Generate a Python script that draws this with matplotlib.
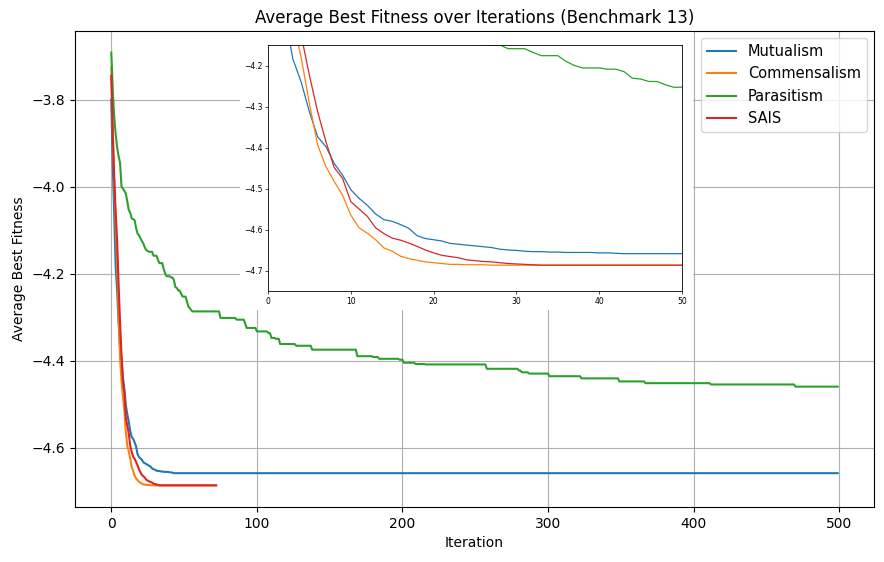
import numpy as np
import matplotlib
matplotlib.use("Agg")
import matplotlib.pyplot as plt
from matplotlib.patches import Rectangle

# ---------------- data (run-length encoded: value, number of iterations) ----------------
mutualism_vals = [-3.800, -3.950, -4.070, -4.184, -4.240, -4.313, -4.374, -4.398, -4.439, -4.467,
                  -4.503, -4.524, -4.541, -4.562, -4.576, -4.580, -4.588, -4.597, -4.615, -4.622,
                  -4.625, -4.628, -4.634, -4.636, -4.638, -4.640, -4.642, -4.644, -4.648, -4.650,
                  -4.651, -4.653, -4.654, -4.655, -4.656, -4.657, -4.658, -4.659]
mutualism_runs = [1] * 32 + [2, 2, 4, 2, 1, 457]

commensalism_vals = [-3.726, -3.870, -3.990, -4.090, -4.180, -4.293, -4.394, -4.447, -4.483, -4.516,
                     -4.565, -4.596, -4.609, -4.625, -4.645, -4.653, -4.665, -4.671, -4.675, -4.679,
                     -4.681, -4.683, -4.685, -4.686, -4.687]
commensalism_runs = [1] * 22 + [2, 3, 46]

parasitism_vals = [-3.692, -3.780, -3.840, -3.880, -3.910, -3.930, -3.945, -4.000, -4.005, -4.010,
                   -4.016, -4.035, -4.054, -4.060, -4.073, -4.075, -4.077, -4.095, -4.108, -4.112,
                   -4.119, -4.125, -4.131, -4.140, -4.146, -4.148, -4.150, -4.159, -4.168, -4.176,
                   -4.190, -4.200, -4.206, -4.209, -4.215, -4.231, -4.233, -4.239, -4.247, -4.253,
                   -4.265, -4.276, -4.280, -4.285, -4.287, -4.302, -4.306, -4.315, -4.325, -4.333,
                   -4.337, -4.348, -4.350, -4.362, -4.366, -4.375, -4.390, -4.392, -4.396, -4.398,
                   -4.405, -4.408, -4.409, -4.419, -4.423, -4.427, -4.430, -4.436, -4.441, -4.448,
                   -4.452, -4.455, -4.460]
parasitism_runs = ([1] * 26 + [3, 3, 1, 3, 1, 1, 3, 2, 1, 1, 1, 2, 1, 3]
                   + [1, 1, 1, 1, 19, 11, 6, 1, 7, 8, 2, 3, 3, 11, 11, 31, 11, 4, 14, 3,
                      8, 7, 42, 22, 2, 5, 14, 22, 26, 18, 45, 58, 30])

sais_vals = [-3.745, -3.880, -3.980, -4.060, -4.125, -4.224, -4.313, -4.386, -4.449, -4.475,
             -4.532, -4.550, -4.568, -4.596, -4.610, -4.621, -4.626, -4.633, -4.641, -4.650,
             -4.657, -4.663, -4.666, -4.669, -4.674, -4.676, -4.678, -4.679, -4.681, -4.683,
             -4.684, -4.685, -4.686, -4.687]
sais_runs = [1] * 33 + [40]

labels = ["Mutualism", "Commensalism", "Parasitism", "SAIS"]
colors = ["#1f77b4", "#ff7f0e", "#2ca02c", "#d62728"]

series = [np.repeat(mutualism_vals, mutualism_runs),
          np.repeat(commensalism_vals, commensalism_runs),
          np.repeat(parasitism_vals, parasitism_runs),
          np.repeat(sais_vals, sais_runs)]

# ---------------- figure ----------------
fig = plt.figure(figsize=(8.84, 5.62), dpi=100)
ax = fig.add_axes([75 / 884, 55 / 562, 799 / 884, 476 / 562])

for y, lab, c in zip(series, labels, colors):
    ax.plot(np.arange(len(y)), y, color=c, lw=1.5, label=lab)

ax.set_title("Average Best Fitness over Iterations (Benchmark 13)", fontsize=12)
ax.set_xlabel("Iteration", fontsize=10)
ax.set_ylabel("Average Best Fitness", fontsize=10)
ax.set_xticks([0, 100, 200, 300, 400, 500])
ax.set_yticks([-3.8, -4.0, -4.2, -4.4, -4.6])
ax.grid(True)
ax.legend(loc="upper right", fontsize=10.5)

# white backdrop for the inset
bg = Rectangle((240 / 884, (562 - 310) / 562), 453 / 884, 278 / 562,
               transform=fig.transFigure, facecolor="white", edgecolor="none", zorder=0.5)
fig.add_artist(bg)

axin = fig.add_axes([268 / 884, (562 - 291) / 562, 414 / 884, 246 / 562])
axin.set_zorder(1)
for y, c in zip(series, colors):
    axin.plot(np.arange(len(y)), y, color=c, lw=0.9)
axin.set_xlim(0, 50)
axin.set_ylim(-4.75, -4.15)
axin.set_xticks([0, 10, 20, 30, 40, 50])
axin.set_yticks([-4.2, -4.3, -4.4, -4.5, -4.6, -4.7])
axin.tick_params(labelsize=5.5, length=2, width=0.5, pad=2)
for s in axin.spines.values():
    s.set_linewidth(0.6)

fig.savefig("out.png", dpi=100)
